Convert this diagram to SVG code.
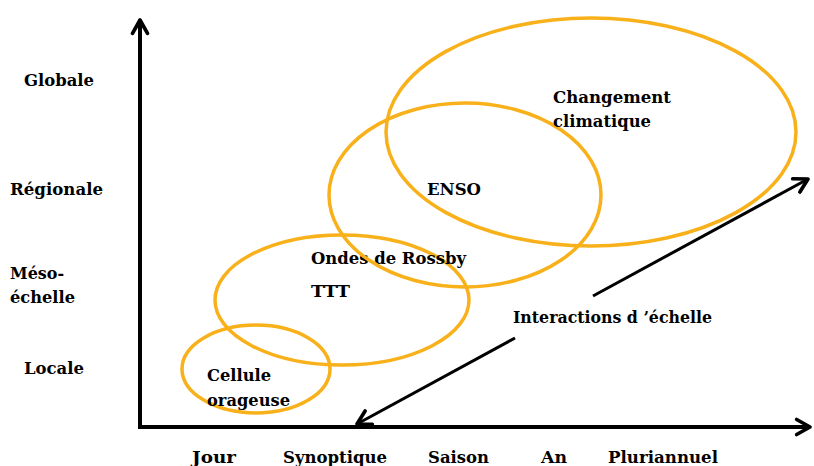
<svg xmlns="http://www.w3.org/2000/svg" width="814" height="466" viewBox="0 0 814 466">
<style>
text{font-family:"DejaVu Serif","Liberation Serif",serif;font-weight:bold;font-size:17px;fill:#000}
.ell{fill:none;stroke:#F8B11A;stroke-width:3.5}
.ax{stroke:#000;stroke-width:4;fill:none}
.dg{stroke:#000;stroke-width:3;fill:none}
</style>
<defs>
<marker id="ah2" viewBox="0 0 12 12" refX="10" refY="6" markerWidth="20" markerHeight="20" markerUnits="userSpaceOnUse" orient="auto-start-reverse">
<path d="M2,1.5 L10,6 L2,10.5" fill="none" stroke="#000" stroke-width="2.2" stroke-linecap="round" stroke-linejoin="round"/>
</marker>
</defs>
<g id="nodes">
<g id="cellule"><ellipse class="ell" cx="256" cy="369" rx="74" ry="44"/><text x="207" y="381" textLength="64" lengthAdjust="spacingAndGlyphs">Cellule</text><text x="207" y="406" textLength="83" lengthAdjust="spacingAndGlyphs">orageuse</text></g>
<g id="rossby"><ellipse class="ell" cx="342" cy="300" rx="127" ry="65"/><text x="311" y="264" textLength="155" lengthAdjust="spacingAndGlyphs">Ondes de Rossby</text><text x="311" y="297" textLength="39" lengthAdjust="spacingAndGlyphs">TTT</text></g>
<g id="enso"><ellipse class="ell" cx="465" cy="195" rx="136" ry="92"/><text x="427" y="195" textLength="54" lengthAdjust="spacingAndGlyphs">ENSO</text></g>
<g id="climat"><ellipse class="ell" cx="591" cy="132" rx="205" ry="114"/><text x="553" y="103" textLength="118" lengthAdjust="spacingAndGlyphs">Changement</text><text x="553" y="127" textLength="98" lengthAdjust="spacingAndGlyphs">climatique</text></g>
</g>
<g id="connectors">
<line class="ax" x1="140" y1="427" x2="140" y2="20" marker-end="url(#ah2)"/>
<line class="ax" x1="138" y1="427" x2="810" y2="427" marker-end="url(#ah2)"/>
<line class="dg" x1="515" y1="338" x2="357" y2="424" marker-end="url(#ah2)"/>
<line class="dg" x1="593" y1="296" x2="808" y2="179" marker-end="url(#ah2)"/>
</g>
<g id="labels">
<text x="24" y="86" textLength="70" lengthAdjust="spacingAndGlyphs">Globale</text>
<text x="10" y="195" textLength="93" lengthAdjust="spacingAndGlyphs">Régionale</text>
<text x="10" y="279" textLength="54" lengthAdjust="spacingAndGlyphs">Méso-</text>
<text x="10" y="303" textLength="65" lengthAdjust="spacingAndGlyphs">échelle</text>
<text x="24" y="374" textLength="60" lengthAdjust="spacingAndGlyphs">Locale</text>
<text x="192" y="463" textLength="44" lengthAdjust="spacingAndGlyphs">Jour</text>
<text x="283" y="463" textLength="104" lengthAdjust="spacingAndGlyphs">Synoptique</text>
<text x="428" y="463" textLength="61" lengthAdjust="spacingAndGlyphs">Saison</text>
<text x="541" y="463" textLength="26" lengthAdjust="spacingAndGlyphs">An</text>
<text x="608" y="463" textLength="110" lengthAdjust="spacingAndGlyphs">Pluriannuel</text>
<text x="513" y="323" textLength="199" lengthAdjust="spacingAndGlyphs">Interactions d ’échelle</text>
</g>
</svg>
